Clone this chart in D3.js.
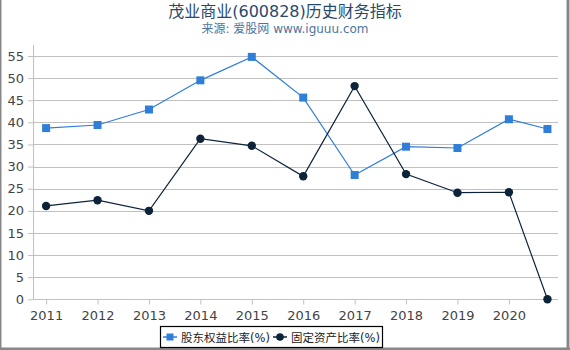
<!DOCTYPE html>
<html>
<head>
<meta charset="utf-8">
<title>茂业商业(600828)历史财务指标</title>
<script src="https://cdn.jsdelivr.net/npm/d3@7"></script>
<style>
  body { margin: 0; background: #fff; font-family: "DejaVu Sans", "Noto Sans CJK SC", sans-serif; }
</style>
</head>
<body>
<svg id="chart" width="570" height="350"></svg>
<script>
// data
var years = [2011, 2012, 2013, 2014, 2015, 2016, 2017, 2018, 2019, 2020, 2020.75];
var tickYears = [2011, 2012, 2013, 2014, 2015, 2016, 2017, 2018, 2019, 2020];
var equityRatio = [38.7, 39.4, 42.9, 49.5, 54.8, 45.6, 28.1, 34.5, 34.2, 40.7, 38.5];
var fixedAssetRatio = [21.1, 22.4, 20.0, 36.3, 34.7, 27.8, 48.2, 28.3, 24.1, 24.2, 0];
var yTicks = [0, 5, 10, 15, 20, 25, 30, 35, 40, 45, 50, 55];
var seriesNames = ["股东权益比率(%)", "固定资产比率(%)"];

var svg = d3.select("#chart");
var font = "'DejaVu Sans', 'Noto Sans CJK SC', sans-serif";

// outer frame (left, right, bottom)
svg.append("rect").attr("x", 0).attr("y", 0).attr("width", 570).attr("height", 350).attr("fill", "#fff");
svg.append("line").attr("x1", 0.5).attr("y1", 0).attr("x2", 0.5).attr("y2", 350).attr("stroke", "#888").attr("stroke-width", 2);
svg.append("line").attr("x1", 568).attr("y1", 0).attr("x2", 568).attr("y2", 350).attr("stroke", "#888").attr("stroke-width", 3);
svg.append("line").attr("x1", 0).attr("y1", 349).attr("x2", 570).attr("y2", 349).attr("stroke", "#888").attr("stroke-width", 3);

svg.append("text").attr("x", 285).attr("y", 17).attr("text-anchor", "middle")
  .attr("font-family", font).attr("font-size", 16).attr("fill", "#274b6d")
  .text("茂业商业(600828)历史财务指标");
svg.append("text").attr("x", 285).attr("y", 33).attr("text-anchor", "middle")
  .attr("font-family", font).attr("font-size", 12).attr("fill", "#4d759e")
  .text("来源: 爱股网 www.iguuu.com");

var x = d3.scaleLinear().domain([2010.745, 2020.955]).range([33, 558]);
var y = d3.scaleLinear().domain([0, 55]).range([299.3, 56]);

// gridlines
svg.append("g").selectAll("line").data(yTicks.filter(function(d) { return d > 0; })).join("line")
  .attr("x1", 33).attr("x2", 558)
  .attr("y1", function(d) { return Math.round(y(d)) + 0.5; })
  .attr("y2", function(d) { return Math.round(y(d)) + 0.5; })
  .attr("stroke", "#c0c0c0").attr("stroke-width", 1);

// y axis line + labels
svg.append("line").attr("x1", 33.5).attr("x2", 33.5).attr("y1", 45).attr("y2", 300)
  .attr("stroke", "#c0c0c0");
var yAxis = d3.axisLeft(y).tickValues(yTicks).tickSize(5).tickPadding(4);
var yg = svg.append("g").attr("transform", "translate(33,0)").call(yAxis);
yg.select(".domain").remove();
yg.selectAll("line").attr("stroke", "#c0c0c0");
yg.selectAll("text").attr("font-family", font).attr("font-size", 13).attr("fill", "#444");

// x axis
var xAxis = d3.axisBottom(x).tickValues(tickYears).tickFormat(d3.format("d")).tickSize(5).tickPadding(6);
var xg = svg.append("g").attr("transform", "translate(0,299.5)").call(xAxis);
xg.select(".domain").attr("stroke", "#c0c0c0").attr("d", "M33,0H558");
xg.selectAll("line").attr("stroke", "#c0c0c0");
xg.selectAll("text").attr("font-family", font).attr("font-size", 13).attr("fill", "#444");

var blue = "#2f7ed8", dark = "#0d233a";
var line = d3.line().x(function(d) { return x(d[0]); }).y(function(d) { return y(d[1]); });
var s1 = d3.zip(years, equityRatio);
var s2 = d3.zip(years, fixedAssetRatio);

svg.append("path").datum(s1).attr("d", line).attr("fill", "none").attr("stroke", blue).attr("stroke-width", 1.2);
svg.append("path").datum(s2).attr("d", line).attr("fill", "none").attr("stroke", dark).attr("stroke-width", 1.2);

svg.append("g").selectAll("rect").data(s1).join("rect")
  .attr("x", function(d) { return x(d[0]) - 4; })
  .attr("y", function(d) { return y(d[1]) - 4; })
  .attr("width", 8).attr("height", 8).attr("fill", blue);
svg.append("g").selectAll("circle").data(s2).join("circle")
  .attr("cx", function(d) { return x(d[0]); })
  .attr("cy", function(d) { return y(d[1]); })
  .attr("r", 4.2).attr("fill", dark);

// legend
var lg = svg.append("g");
lg.append("rect").attr("x", 160.5).attr("y", 326.5).attr("width", 222).attr("height", 21)
  .attr("fill", "#fff").attr("stroke", "#000").attr("stroke-width", 1.2);
var items = [{name: seriesNames[0], color: blue, x: 163, shape: "square"},
             {name: seriesNames[1], color: dark, x: 273, shape: "circle"}];
items.forEach(function(it) {
  var g = lg.append("g").attr("transform", "translate(" + it.x + ",337)");
  g.append("line").attr("x1", 0).attr("x2", 14).attr("stroke", it.color).attr("stroke-width", 1.5);
  if (it.shape === "square") {
    g.append("rect").attr("x", 3.5).attr("y", -3.5).attr("width", 7).attr("height", 7).attr("fill", it.color);
  } else {
    g.append("circle").attr("cx", 7).attr("cy", 0).attr("r", 3.8).attr("fill", it.color);
  }
  g.append("text").attr("x", 18).attr("y", 4.5).attr("font-family", font).attr("font-size", 11.5)
    .attr("fill", "#222").text(it.name);
});
</script>
</body>
</html>
